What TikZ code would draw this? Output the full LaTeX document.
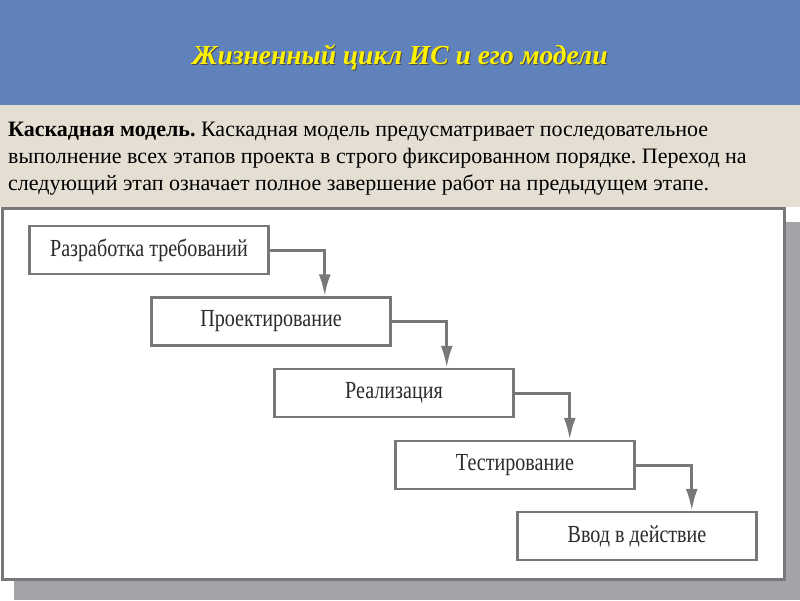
\documentclass[tikz,border=0pt]{standalone}
\usepackage{fontspec}
\setmainfont{Liberation Serif}
\newfontfamily\stagefont[FakeStretch=0.82]{Liberation Serif}
\usetikzlibrary{arrows.meta}
\definecolor{slideblue}{HTML}{5F81BC}
\definecolor{paper}{HTML}{E5DED3}
\definecolor{frame}{HTML}{777879}
\definecolor{shadowgray}{HTML}{A2A4A8}
\definecolor{ink}{HTML}{2B2B2B}
\frenchspacing

\begin{document}
\begin{tikzpicture}[
    x=1pt, y=-1pt,
    stage/.style={
        draw=frame,
        line width=2.5pt,
        fill=white,
        minimum width=239pt,
        minimum height=48pt,
        inner sep=0pt,
        font=\stagefont\fontsize{24.5}{28}\selectfont,
        text=ink,
    },
    flow/.style={
        draw=frame,
        line width=3pt,
        -{Latex[length=22pt,width=12pt]},
    },
]
\useasboundingbox (0,0) rectangle (800,600);

% background bands
\fill[slideblue] (0,0) rectangle (800,105);
\fill[paper] (0,105) rectangle (800,207);
\fill[shadowgray] (14,580) rectangle (800,600);
\fill[shadowgray] (786,222) rectangle (800,600);
\draw[frame, line width=3pt, fill=white] (2,208) rectangle (784,579);

\node[text=black!70, font=\bfseries\itshape\fontsize{27.5}{30}\selectfont] at (401,58.5) {Жизненный цикл ИС и его модели};
\node[text=yellow, font=\bfseries\itshape\fontsize{27.5}{30}\selectfont] (title) at (400,57) {Жизненный цикл ИС и его модели};

\node[anchor=north west, align=left, inner sep=0pt, font=\fontsize{22}{27}\selectfont] (intro) at (8,122)
    {\textbf{Каскадная модель.} Каскадная модель предусматривает последовательное\\
     выполнение всех этапов проекта в строго фиксированном порядке. Переход на\\
     следующий этап означает полное завершение работ на предыдущем этапе.};

\node[stage] (req) at (149, 250) {Разработка требований};
\node[stage] (design) at (271, 321.5) {Проектирование};
\node[stage] (impl) at (394, 393) {Реализация};
\node[stage] (test) at (515, 465) {Тестирование};
\node[stage] (deploy) at (637, 536) {Ввод в действие};

\draw[flow] (req.east) -| ([xshift=55]req.east |- design.north);
\draw[flow] (design.east) -| ([xshift=55]design.east |- impl.north);
\draw[flow] (impl.east) -| ([xshift=55]impl.east |- test.north);
\draw[flow] (test.east) -| ([xshift=56]test.east |- deploy.north);

\end{tikzpicture}
\end{document}
